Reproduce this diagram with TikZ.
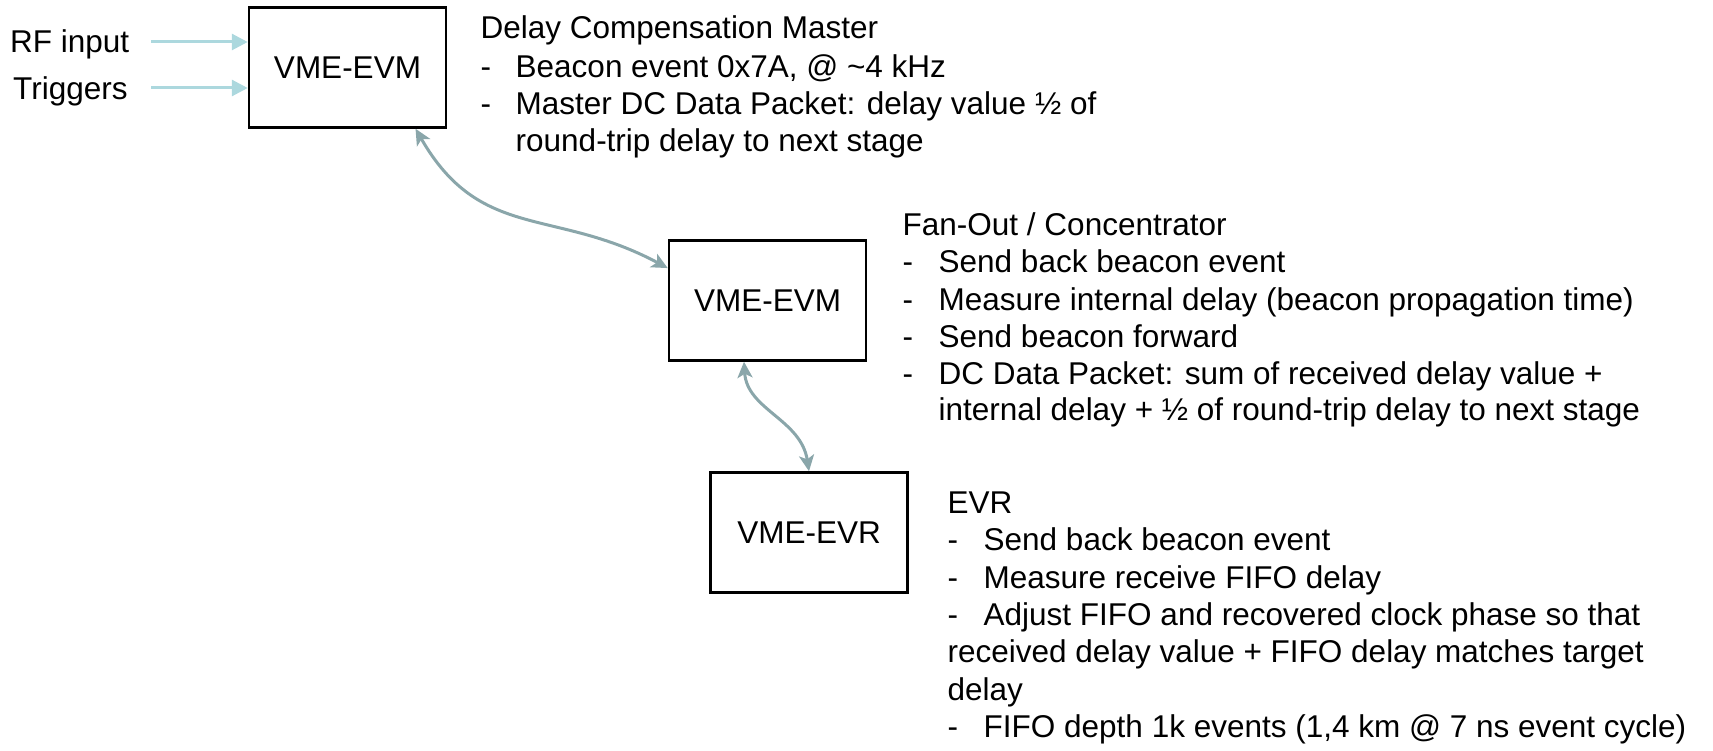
\documentclass[tikz,border=0pt]{standalone}
\usepackage{fontspec}
\setmainfont{Liberation Sans}
\usetikzlibrary{arrows.meta}
\definecolor{inarrow}{RGB}{172,216,222}
\definecolor{linkcol}{RGB}{138,166,170}
\begin{document}
\begin{tikzpicture}[x=1pt,y=-1pt,
  every node/.style={font=\fontsize{31.5}{37.5}\selectfont},
  box/.style={draw, line width=2.5pt, minimum width=197pt, minimum height=120pt, inner sep=0pt},
  txt/.style={anchor=base west, inner sep=0pt},
  inputarrow/.style={draw=inarrow, line width=3pt, -{Triangle[length=16pt,width=16pt]}},
  linkarrow/.style={draw=linkcol, line width=3pt, {Stealth[length=16pt,width=15pt,inset=4pt]}-{Stealth[length=16pt,width=15pt,inset=4pt]}}]
\useasboundingbox (0,0) rectangle (1713,751);

% boxes
\node[box] (evm1) at (347.5,67.5) {VME-EVM};
\node[box] (evm2) at (767.5,300.5) {VME-EVM};
\node[box] (evr) at (809,532.5) {VME-EVR};

% inputs
\node[txt] (rf) at (10,53) {RF input};
\node[txt] (trig) at (13,100) {Triggers};
\coordinate (rfs) at (151,42);
\coordinate (trs) at (151,88);
\draw[inputarrow] (rfs) -- (rfs -| evm1.west);
\draw[inputarrow] (trs) -- (trs -| evm1.west);

% links
\draw[linkarrow] (evm1.-42) .. controls +(65,113) and +(-114,-61) .. (evm2.162);
\draw[linkarrow] (evm2.-111) .. controls +(3,48) and +(-8,-52) .. (evr.north);

% master text
\node[txt] (m0) at (480.5,39) {Delay Compensation Master};
\node[txt] (m1) at (480.5,78) {\makebox[35pt][l]{-}Beacon event 0x7A, @ \textasciitilde4 kHz};
\node[txt] (m2) at (480.5,115) {\makebox[35pt][l]{-}Master DC Data Packet: delay value ½ of};
\node[txt] (m3) at (480.5,152) {\hspace*{35pt}round-trip delay to next stage};

% fan-out text
\node[txt] (f0) at (902.5,236) {Fan-Out / Concentrator};
\node[txt] (f1) at (902.5,273) {\makebox[36pt][l]{-}Send back beacon event};
\node[txt] (f2) at (902.5,310) {\makebox[36pt][l]{-}Measure internal delay (beacon propagation time)};
\node[txt] (f3) at (902.5,347) {\makebox[36pt][l]{-}Send beacon forward};
\node[txt] (f4) at (902.5,384) {\makebox[36pt][l]{-}DC Data Packet: sum of received delay value +};
\node[txt] (f5) at (902.5,420) {\hspace*{36pt}internal delay + ½ of round-trip delay to next stage};

% EVR text
\node[txt] (e0) at (947.5,513) {EVR};
\node[txt] (e1) at (947.5,550) {\makebox[36pt][l]{-}Send back beacon event};
\node[txt] (e2) at (947.5,588) {\makebox[36pt][l]{-}Measure receive FIFO delay};
\node[txt] (e3) at (947.5,625) {\makebox[36pt][l]{-}Adjust FIFO and recovered clock phase so that};
\node[txt] (e4) at (947.5,662) {received delay value + FIFO delay matches target};
\node[txt] (e5) at (947.5,700) {delay};
\node[txt] (e6) at (947.5,737) {\makebox[36pt][l]{-}FIFO depth 1k events (1,4 km @ 7 ns event cycle)};
\end{tikzpicture}
\end{document}
